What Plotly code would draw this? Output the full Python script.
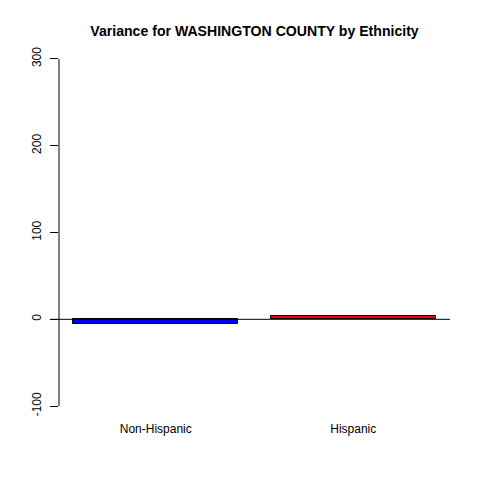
import plotly.graph_objects as go

categories = ["Non-Hispanic", "Hispanic"]
values = [-5, 4]
colors = ["#0000FF", "#FF0000"]
xpos = [0.7, 1.9]
yticks = [-100, 0, 100, 200, 300]

fig = go.Figure()
fig.add_trace(go.Bar(
    x=xpos, y=values, width=1.0,
    marker=dict(color=colors, line=dict(color="black", width=1)),
    showlegend=False,
))

fig.update_layout(
    width=480, height=480,
    margin=dict(l=59, r=30, t=45, b=60),
    paper_bgcolor="white", plot_bgcolor="white",
    font=dict(family="Liberation Sans, Arial", size=12, color="black"),
    title=dict(text="<b>Variance for WASHINGTON COUNTY by Ethnicity</b>",
               x=0.5, xref="paper", xanchor="center", y=1 - 31/480, yanchor="middle",
               font=dict(size=14.1, color="black")),
    xaxis=dict(range=[0.112, 2.488], tickvals=xpos, ticktext=categories,
               showgrid=False, zeroline=False, showline=False, ticks="",
               tickfont=dict(size=12, color="black")),
    yaxis=dict(range=[-116, 316], tickvals=yticks, ticktext=[str(v) for v in yticks],
               showgrid=False, zeroline=False, showline=False,
               ticks="outside", ticklen=8, tickcolor="black", tickwidth=1,
               tickangle=-90, ticklabelstandoff=4,
               tickfont=dict(size=12, color="black")),
    bargap=0,
)

# y axis line (R style, spanning tick range only)
fig.add_shape(type="line", xref="paper", yref="y", x0=0, x1=0, y0=-100, y1=300,
              line=dict(color="black", width=1))
# horizontal zero line
fig.add_shape(type="line", xref="paper", yref="y", x0=-0.021, x1=1, y0=0, y1=0,
              line=dict(color="black", width=1))

fig.write_html("out.html")
